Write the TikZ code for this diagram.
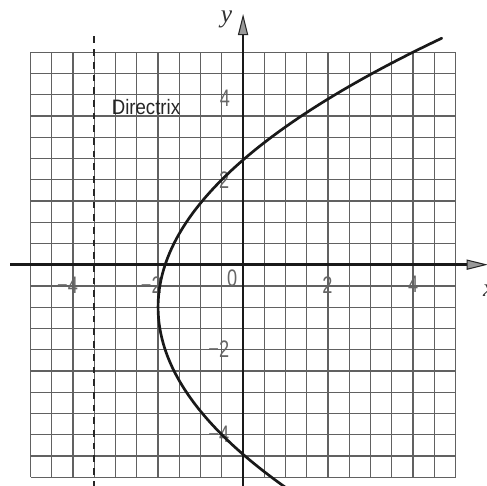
\documentclass[tikz,border=0pt]{standalone}
\usepackage{fontspec}
\setmainfont{Liberation Sans}
\newfontfamily\serifit{Liberation Serif Italic}
\usetikzlibrary{arrows.meta}
\newcommand{\narrow}[2]{\scalebox{#1}[1]{#2}}
\begin{document}
\begin{tikzpicture}[x=1cm,y=1cm,
  gridline/.style={draw=black!62, line width=0.85pt},
  axisline/.style={draw=black!90, line width=1.8pt,
    -{Triangle[length=0.5cm,width=0.24cm,fill=black!40,color=black!85,line width=0.7pt]}},
  directrixline/.style={draw=black!85, line width=1.5pt, dash pattern=on 4.5pt off 4pt},
  curveline/.style={draw=black!90, line width=1.8pt, line cap=round},
  ticklab/.style={text=black!60, font=\fontsize{16}{16}\selectfont, inner sep=0pt, anchor=east},
  dirlab/.style={text=black!85, font=\fontsize{14}{14}\selectfont, inner sep=0pt},
  axlab/.style={text=black!80, font=\serifit\fontsize{17}{17}\selectfont, inner sep=0pt}
]
\useasboundingbox (-5.72,-5.185) rectangle (5.74,6.228);
% grid
\foreach \g in {-5,-4.5,...,5.01} {
  \draw[gridline] (\g,-5) -- (\g,5);
  \draw[gridline] (-5,\g) -- (5,\g);
}
% directrix
\coordinate (dtop) at (-3.5,5.37);
\coordinate (dbot) at (-3.5,-5.3);
\draw[directrixline] (dtop) -- (dbot);
\node[dirlab] (dir) at (-2.285,3.70) {\narrow{0.89}{Directrix}};
% axes
\coordinate (xleft) at (-5.48,0);
\coordinate (xright) at (5.76,0);
\coordinate (ybot) at (0,-5.3);
\coordinate (ytop) at (0,5.9);
\draw[axisline] (xleft) -- (xright);
\draw[axisline] (ybot) -- (ytop);
\node[axlab] (ylab) at (-0.39,5.76) {y};
\node[axlab, anchor=west] (xlab) at (5.64,-0.62) {x};
% tick labels
\node[ticklab] (xm4) at (-3.88,-0.48) {\narrow{0.76}{−4}};
\node[ticklab] (xm2) at (-1.91,-0.48) {\narrow{0.76}{−2}};
\node[ticklab] (x0) at (-0.13,-0.32) {\narrow{0.76}{0}};
\node[ticklab] (x2) at (2.11,-0.48) {\narrow{0.76}{2}};
\node[ticklab] (x4) at (4.13,-0.46) {\narrow{0.76}{4}};
\node[ticklab] (y4) at (-0.30,3.92) {\narrow{0.76}{4}};
\node[ticklab] (y2) at (-0.32,1.99) {\narrow{0.76}{2}};
\node[ticklab] (ym2) at (-0.32,-1.99) {\narrow{0.76}{−2}};
\node[ticklab] (ym4) at (-0.32,-4.0) {\narrow{0.76}{−4}};
% parabola
\draw[curveline] plot[domain=-5.25:5.33, samples=120, smooth, variable=\t] ({(\t+1)*(\t+1)/6-2},\t);
\end{tikzpicture}
\end{document}
